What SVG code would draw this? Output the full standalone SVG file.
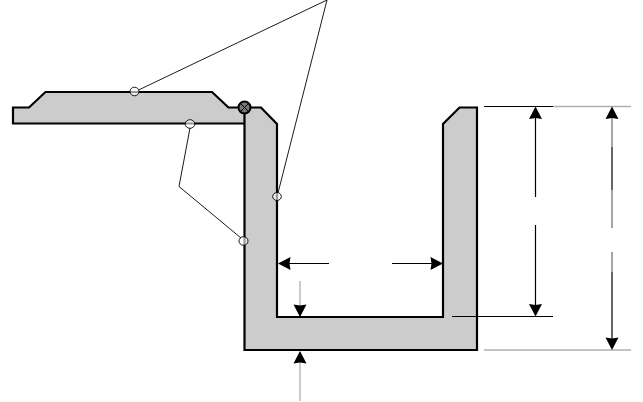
<svg xmlns="http://www.w3.org/2000/svg" width="643" height="402" viewBox="0 0 643 402">
<style>
.body{fill:#cccccc;stroke:#000;stroke-width:2.2;stroke-linejoin:miter}
.lead{fill:none;stroke:#000;stroke-width:.9}
.dot{fill:#fff;fill-opacity:.6;stroke:#000;stroke-width:.9}
.dim{fill:none;stroke:#000;stroke-width:1.2}
.grey{fill:none;stroke:#b0b0b0;stroke-width:1.3}
.mid{fill:none;stroke:#777;stroke-width:1.3}
.head{fill:#000}
</style>
<defs>
<polygon id="ah" class="head" points="0,0 6.500,12.500 0,11.500 -6.500,12.500"/>
</defs>
<rect width="643" height="402" fill="#fff"/>
<g id="lid"><path class="body" d="M13 123.500V107.500H29L45.500 92H212L228.500 107.500H245V123.500Z"/></g>
<g id="channel"><path class="body" d="M244.500 123V107.500H261L277 124V317H443V124L459.500 107.500H477V350H244.500Z"/></g>
<g id="hinge"><circle cx="244.500" cy="107.500" r="6" fill="#777" stroke="#000" stroke-width="2"/><path d="M240.500 103.500L248.500 111.500M248.500 103.500L240.500 111.500" stroke="#000" stroke-width="1" fill="none"/></g>
<g id="connectors">
<path class="lead" d="M139 89.800L327 0L278 193"/>
<path class="lead" d="M190 128L179 186.500L241 238"/>
<path class="dim" d="M484 106.500H553M535.500 108V197M535.500 225V315M452 316.500H553"/>
<path class="grey" d="M553 106.500H631M484 350H631"/>
<path class="mid" d="M612 108V147M612 190V228M612 252V272"/>
<path class="dim" d="M612 147V190" stroke-width="1.800"/>
<path class="dim" d="M612 272V348"/>
<path class="dim" d="M279 263.500H329M392 263.500H442"/>
<path class="grey" d="M300 281V316M300 352V401"/>
<use href="#ah" transform="translate(535.500,106.500)"/>
<use href="#ah" transform="translate(535.500,316.500) rotate(180)"/>
<use href="#ah" transform="translate(612,106.500)"/>
<use href="#ah" transform="translate(612,350) rotate(180)"/>
<use href="#ah" transform="translate(278,263.500) rotate(-90)"/>
<use href="#ah" transform="translate(443,263.500) rotate(90)"/>
<use href="#ah" transform="translate(300,317) rotate(180)"/>
<use href="#ah" transform="translate(300,351)"/>
</g>
<g id="markers">
<ellipse class="dot" cx="134.500" cy="91.500" rx="4.500" ry="4.300"/>
<ellipse class="dot" cx="190" cy="124" rx="4.800" ry="4.300"/>
<ellipse class="dot" cx="243.500" cy="241" rx="4.500" ry="4.300"/>
<ellipse class="dot" cx="277" cy="196.500" rx="4.300" ry="4"/>
</g>
</svg>
